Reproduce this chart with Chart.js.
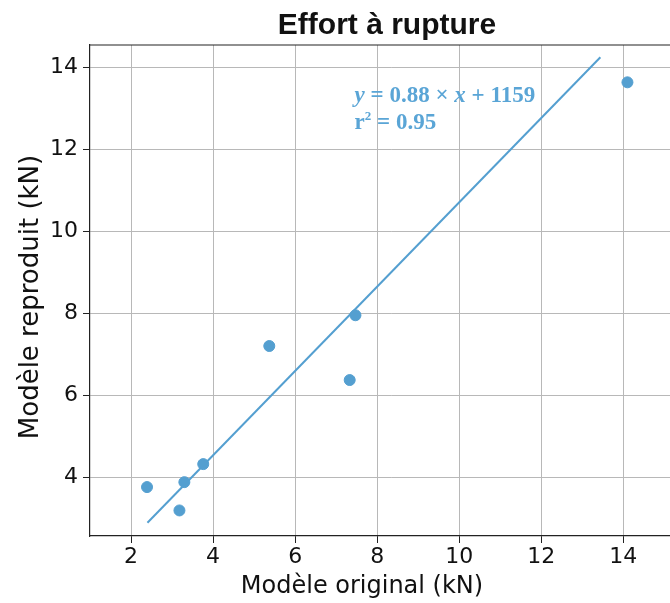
<!DOCTYPE html>
<html>
<head>
<meta charset="utf-8">
<script src="https://cdn.jsdelivr.net/npm/chart.js@4/dist/chart.umd.min.js"></script>
<style>
  html, body { margin: 0; padding: 0; background: #fff; overflow: hidden; }
  #wrap { width: 670px; height: 603px; overflow: hidden; }
</style>
</head>
<body>
<div id="wrap"><canvas id="c" width="700" height="603"></canvas></div>
<script>
// measured values (kN)
const origX = [2.39, 3.18, 3.30, 3.76, 5.37, 7.33, 7.47, 14.10];
const reproY = [3.76, 3.19, 3.88, 4.32, 7.20, 6.37, 7.95, 13.63];
// fitted line as drawn
const fitX = [2.40, 13.44];
const fitY = [2.89, 14.24];
const xTicks = [2, 4, 6, 8, 10, 12, 14];
const yTicks = [4, 6, 8, 10, 12, 14];

const blue = '#549fd0';
const txtBlue = '#5aa5d6';

const extras = {
    id: 'extras',
    afterDraw(chart) {
        const ctx = chart.ctx;
        const a = chart.chartArea;
        ctx.save();
        // top frame line
        ctx.strokeStyle = '#222';
        ctx.lineWidth = 1.2;
        ctx.beginPath();
        ctx.moveTo(a.left, a.top);
        ctx.lineTo(a.right, a.top);
        ctx.stroke();

        // title
        ctx.fillStyle = '#111';
        ctx.font = 'bold 30px "Liberation Sans"';
        ctx.textAlign = 'center';
        ctx.textBaseline = 'alphabetic';
        ctx.fillText('Effort à rupture', 387, 34);

        // axis titles
        ctx.font = '24px "DejaVu Sans"';
        ctx.textBaseline = 'middle';
        ctx.fillText('Modèle original (kN)', 362, 587);
        ctx.save();
        ctx.translate(31, 297);
        ctx.rotate(-Math.PI / 2);
        ctx.font = '26px "DejaVu Sans"';
        ctx.fillText('Modèle reproduit (kN)', 0, 0);
        ctx.restore();

        // regression annotation
        const xs = chart.scales.x, ys = chart.scales.y;
        const x0 = xs.getPixelForValue(7.45);
        let x = x0;
        let y = ys.getPixelForValue(13.16);
        ctx.fillStyle = txtBlue;
        ctx.textAlign = 'left';
        ctx.textBaseline = 'alphabetic';
        const parts = [
            ['italic bold 23px "Liberation Serif"', 'y'],
            ['bold 23px "Liberation Serif"', ' = 0.88 × '],
            ['italic bold 23px "Liberation Serif"', 'x'],
            ['bold 23px "Liberation Serif"', ' + 1159']
        ];
        parts.forEach(([f, t]) => {
            ctx.font = f;
            ctx.fillText(t, x, y);
            x += ctx.measureText(t).width;
        });
        x = x0;
        y += 27;
        ctx.font = 'bold 23px "Liberation Serif"';
        ctx.fillText('r', x, y);
        let w = ctx.measureText('r').width;
        ctx.font = 'bold 13px "Liberation Serif"';
        ctx.fillText('2', x + w, y - 9);
        w += ctx.measureText('2').width;
        ctx.font = 'bold 23px "Liberation Serif"';
        ctx.fillText(' = 0.95', x + w, y);
        ctx.restore();
    }
};

new Chart(document.getElementById('c'), {
    type: 'scatter',
    data: {
        datasets: [{
            data: origX.map((v, i) => ({ x: v, y: reproY[i] })),
            backgroundColor: blue,
            borderColor: blue,
            pointRadius: 5.5,
            pointHoverRadius: 5.5
        }, {
            data: fitX.map((v, i) => ({ x: v, y: fitY[i] })),
            showLine: true,
            borderColor: blue,
            borderWidth: 2,
            pointRadius: 0
        }]
    },
    options: {
        responsive: false,
        animation: false,
        layout: { padding: { top: 45, right: 0, left: 0, bottom: 0 } },
        plugins: { legend: { display: false }, tooltip: { enabled: false } },
        scales: {
            x: {
                type: 'linear',
                min: 1.0,
                max: 15.71,
                afterBuildTicks: (s) => { s.ticks = xTicks.map(v => ({ value: v })); },
                afterFit: (s) => { s.height = 67; },
                grid: { color: '#b8b8b8', lineWidth: 1, tickLength: 7, tickColor: '#222' },
                border: { color: '#222', width: 1.2 },
                ticks: { color: '#111', font: { family: 'DejaVu Sans', size: 22 }, padding: 1 },
                title: { display: false }
            },
            y: {
                type: 'linear',
                min: 2.567,
                max: 14.54,
                afterBuildTicks: (s) => { s.ticks = yTicks.map(v => ({ value: v })); },
                afterFit: (s) => { s.width = 90; },
                grid: { color: '#b8b8b8', lineWidth: 1, tickLength: 7, tickColor: '#222' },
                border: { color: '#222', width: 1.2 },
                ticks: { color: '#111', font: { family: 'DejaVu Sans', size: 22 }, padding: 5 },
                title: { display: false }
            }
        }
    },
    plugins: [extras]
});
</script>
</body>
</html>
